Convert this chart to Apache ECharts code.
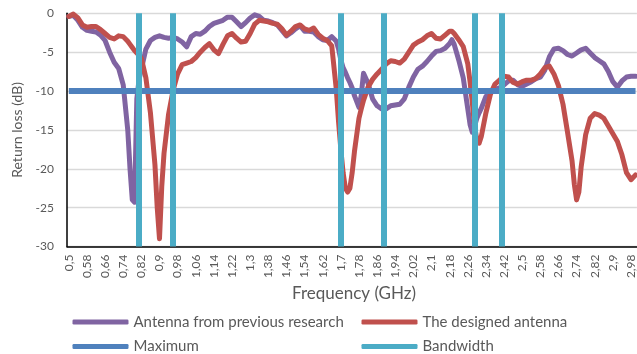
<!DOCTYPE html>
<html><head><meta charset="utf-8">
<script src="https://cdn.jsdelivr.net/npm/echarts@6/dist/echarts.min.js"></script>
<style>html,body{margin:0;padding:0;background:#fff}#c{width:637px;height:354px}</style>
</head><body><div id="c"></div>
<script>
// Frequency samples (GHz)
const frequencies = [
  0.50,0.52,0.54,0.56,0.58,0.60,0.62,0.64,0.66,0.68,
  0.70,0.72,0.74,0.76,0.77,0.78,0.79,0.80,0.81,0.82,
  0.84,0.86,0.88,0.89,0.90,0.91,0.92,0.94,0.96,0.98,
  1.00,1.02,1.04,1.06,1.08,1.10,1.12,1.14,1.16,1.18,
  1.20,1.22,1.24,1.26,1.28,1.30,1.32,1.34,1.36,1.38,
  1.40,1.42,1.44,1.46,1.48,1.50,1.52,1.54,1.56,1.58,
  1.60,1.62,1.64,1.66,1.68,1.69,1.70,1.71,1.72,1.73,
  1.74,1.75,1.76,1.78,1.79,1.80,1.82,1.84,1.86,1.88,
  1.90,1.92,1.94,1.96,1.98,2.00,2.02,2.04,2.06,2.08,
  2.10,2.12,2.14,2.16,2.18,2.19,2.20,2.22,2.24,2.26,
  2.27,2.28,2.29,2.30,2.31,2.32,2.34,2.36,2.38,2.40,
  2.42,2.44,2.46,2.48,2.50,2.52,2.54,2.56,2.58,2.60,
  2.62,2.64,2.66,2.68,2.70,2.72,2.73,2.74,2.75,2.76,
  2.78,2.80,2.82,2.84,2.86,2.88,2.90,2.92,2.94,2.96,
  2.98,3.00
];
// Antenna from previous research (dB)
const previousAntenna = [
  -0.4,-0.3,-0.9,-1.8,-2.2,-2.3,-2.4,-2.8,-3.5,-5.0,
  -6.3,-7.1,-9.2,-15.0,-20.0,-24.0,-24.3,-11.0,-8.5,-7.2,
  -4.6,-3.5,-3.1,-3.0,-2.9,-3.0,-3.1,-3.2,-3.1,-3.3,
  -3.7,-4.3,-3.0,-2.6,-2.7,-2.3,-1.7,-1.3,-1.1,-0.9,
  -0.5,-0.5,-1.1,-1.7,-1.2,-0.6,-0.2,-0.4,-0.9,-1.0,
  -1.2,-1.5,-2.2,-2.9,-2.5,-2.0,-1.6,-2.3,-2.3,-2.4,
  -3.0,-3.4,-3.5,-3.0,-3.6,-4.6,-6.0,-7.0,-7.6,-8.3,
  -8.9,-9.6,-10.6,-12.1,-10.5,-7.7,-9.0,-11.0,-11.9,-12.3,
  -12.3,-11.9,-11.8,-11.7,-11.0,-9.5,-8.2,-7.2,-6.8,-6.2,
  -5.5,-4.9,-4.8,-4.5,-3.9,-3.4,-4.0,-6.0,-8.3,-12.3,
  -14.3,-15.3,-14.5,-13.5,-12.8,-12.2,-10.7,-10.1,-9.8,-9.6,
  -9.2,-8.7,-8.6,-9.2,-9.4,-9.1,-8.8,-8.4,-8.2,-7.3,
  -5.6,-4.6,-4.5,-4.8,-5.3,-5.5,-5.3,-5.1,-4.9,-4.7,
  -4.5,-5.1,-5.7,-6.1,-6.5,-7.5,-8.8,-9.5,-8.7,-8.2,
  -8.1,-8.1
];
// The designed antenna (dB)
const designedAntenna = [
  -0.4,-0.1,-0.6,-1.5,-1.8,-1.7,-1.7,-2.1,-2.6,-3.1,
  -3.3,-2.9,-3.0,-3.6,-4.0,-4.4,-4.8,-5.1,-5.4,-5.8,
  -8.3,-12.8,-19.5,-25.0,-29.0,-22.3,-18.0,-13.0,-9.9,-7.8,
  -6.6,-6.4,-6.2,-5.7,-5.0,-4.4,-3.9,-4.7,-5.2,-4.0,
  -2.9,-2.6,-3.2,-3.7,-3.6,-2.6,-1.4,-0.9,-1.0,-1.1,
  -1.3,-1.4,-2.0,-2.8,-2.3,-1.7,-1.5,-2.0,-2.2,-1.9,
  -2.7,-3.2,-3.5,-4.2,-9.8,-14.0,-17.5,-20.5,-22.5,-23.0,
  -22.5,-20.5,-17.8,-13.5,-12.3,-11.2,-9.5,-8.5,-7.8,-7.2,
  -6.5,-6.1,-6.2,-6.4,-5.9,-5.0,-4.1,-3.7,-3.4,-2.9,
  -2.6,-3.2,-3.3,-2.8,-2.3,-2.3,-2.6,-3.4,-4.3,-6.5,
  -8.8,-11.5,-14.5,-16.3,-16.7,-15.8,-12.8,-10.4,-9.1,-8.6,
  -8.1,-8.2,-8.9,-9.1,-8.8,-8.6,-8.6,-8.4,-7.8,-7.0,
  -6.8,-7.8,-9.3,-11.7,-15.3,-19.0,-22.0,-24.0,-23.0,-19.8,
  -15.6,-13.5,-12.9,-13.1,-13.5,-14.5,-15.5,-16.5,-18.2,-20.5,
  -21.4,-20.8
];
const maximumLevel = -10;                               // "Maximum" threshold (dB)
const bandwidthEdges = [0.81, 0.96, 1.70, 1.89, 2.29, 2.41]; // GHz
const xTickLabels = ['0,5','0,58','0,66','0,74','0,82','0,9','0,98','1,06','1,14','1,22','1,3','1,38',
  '1,46','1,54','1,62','1,7','1,78','1,86','1,94','2,02','2,1','2,18','2,26','2,34','2,42','2,5',
  '2,58','2,66','2,74','2,82','2,9','2,98'];
const seriesNames = ['Antenna from previous research','The designed antenna','Maximum','Bandwidth'];

const xTickValues = xTickLabels.map(s => parseFloat(s.replace(',', '.')));
const font = 'Lato, "Open Sans", sans-serif';
const grey = '#595959';
const pair = arr => frequencies.map((f, i) => [f, arr[i]]);

const legendCommon = {
  orient: 'vertical', top: 314, height: 60, padding: 0, itemWidth: 56, itemHeight: 5, itemGap: 8.5,
  icon: 'roundRect', selectedMode: false,
  textStyle: {fontSize: 15, color: grey, fontFamily: font, lineHeight: 16}
};

const chart = echarts.init(document.getElementById('c'), null, {renderer: 'canvas'});
chart.setOption({
  animation: false,
  title: {text: 'Frequency (GHz)', left: 292, top: 285, padding: 0,
    textStyle: {color: grey, fontSize: 17, fontWeight: 'normal', fontFamily: font}},
  grid: {left: 67, top: 13.3, width: 570, height: 233.2, containLabel: false},
  xAxis: {
    type: 'value', min: 0.492, max: 3.006,
    axisLine: {show: true, onZero: false, lineStyle: {color: '#000', width: 1.5}},
    axisTick: {show: false},
    splitLine: {show: false},
    axisLabel: {
      rotate: 90, margin: 8, color: grey, fontSize: 12, fontFamily: font,
      customValues: xTickValues,
      formatter: v => {
        let best = 0;
        xTickValues.forEach((t, i) => { if (Math.abs(t - v) < Math.abs(xTickValues[best] - v)) best = i; });
        return xTickLabels[best];
      }
    }
  },
  yAxis: {
    type: 'value', min: -30, max: 0, interval: 5,
    axisLine: {show: true, lineStyle: {color: '#000', width: 1.5}},
    axisTick: {show: false},
    splitLine: {lineStyle: {color: '#D9D9D9', width: 1.3}},
    axisLabel: {margin: 13, color: grey, fontSize: 12, fontFamily: font},
    name: 'Return loss (dB)', nameLocation: 'middle', nameGap: 39, nameRotate: 90,
    nameTextStyle: {color: grey, fontSize: 14, fontFamily: font}
  },
  legend: [
    Object.assign({data: [seriesNames[0], seriesNames[2]], left: 72.5}, legendCommon),
    Object.assign({data: [seriesNames[1], seriesNames[3]], left: 361.5}, legendCommon)
  ],
  series: [
    {name: seriesNames[0], type: 'line', data: pair(previousAntenna), showSymbol: false, z: 2,
     color: '#8064A2', lineStyle: {width: 5, color: '#8064A2', cap: 'round', join: 'round'}},
    {name: seriesNames[1], type: 'line', data: pair(designedAntenna), showSymbol: false, z: 3,
     color: '#C0504D', lineStyle: {width: 5, color: '#C0504D', cap: 'round', join: 'round'}},
    {name: seriesNames[2], type: 'line', data: frequencies.map(f => [f, maximumLevel]), showSymbol: false, z: 4,
     color: '#4F81BD', lineStyle: {width: 6, color: '#4F81BD'}},
    {name: seriesNames[3], type: 'line', data: [], z: 5, color: '#4BACC6',
     markLine: {silent: true, symbol: 'none', label: {show: false}, animation: false,
       lineStyle: {type: 'solid', width: 6, color: '#4BACC6'},
       data: bandwidthEdges.map(f => ({xAxis: f}))}}
  ]
});
</script>
</body></html>
